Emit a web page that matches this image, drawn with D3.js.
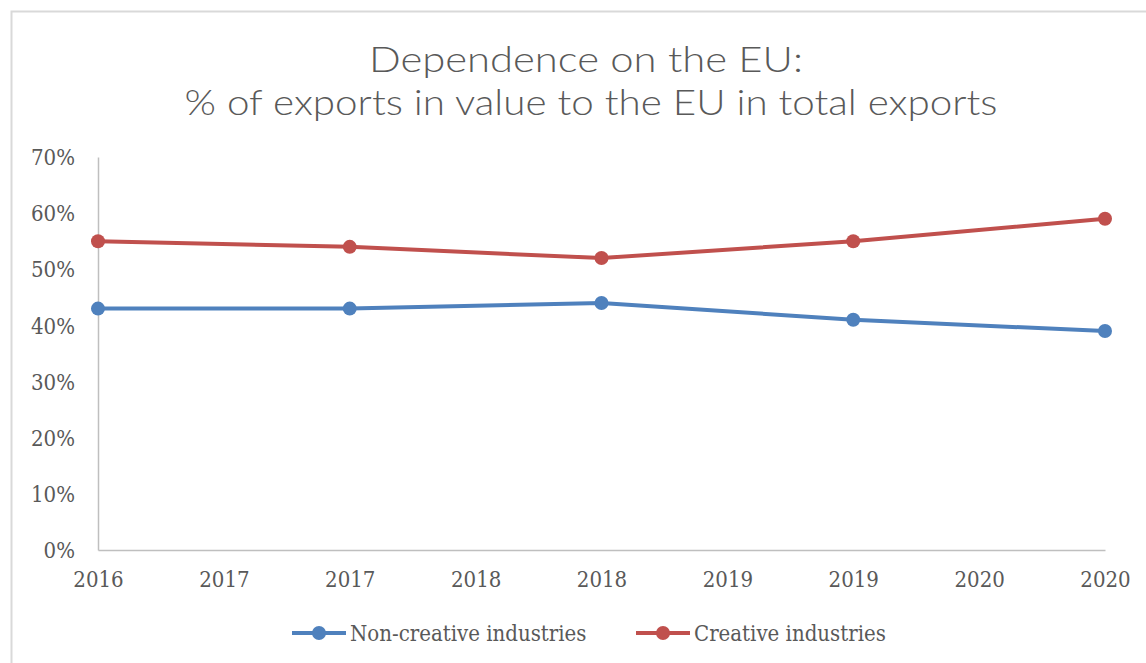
<!DOCTYPE html>
<html><head><meta charset="utf-8">
<script src="https://cdn.jsdelivr.net/npm/d3@7"></script>
<style>
body{margin:0;background:#fff;}
svg{display:block;}
</style></head>
<body>
<svg id="c" width="1146" height="663"></svg>
<script>
const years = [2016, 2017, 2018, 2019, 2020];
const tickLabels = ["2016","2017","2017","2018","2018","2019","2019","2020","2020"];
const nonCreative = [43, 43, 44, 41, 39];
const creative = [55, 54, 52, 55, 59];
const yTicks = [0,10,20,30,40,50,60,70];
const seriesNames = ["Non-creative industries","Creative industries"];
const colors = ["#4f81bd","#c0504d"];

const svg = d3.select("#c");
const plotL = 98, plotR = 1105, plotT = 157, plotB = 550;

// chart border
svg.append("path").attr("d","M11.5,663 V11.5 H1146").attr("fill","none").attr("stroke","#d9d9d9").attr("stroke-width",2);

const titleFont = "'Lato', 'Open Sans', sans-serif";
const tickFont = "'DejaVu Serif Condensed', 'DejaVu Serif', serif";

svg.append("text").attr("text-anchor","middle").attr("fill","#595959")
  .style("font-family",titleFont).style("font-weight","300").style("font-size","36px")
  .attr("x",586).attr("y",72).attr("textLength",434).attr("lengthAdjust","spacingAndGlyphs").text("Dependence on the EU:");
svg.append("text").attr("text-anchor","middle").attr("fill","#595959")
  .style("font-family",titleFont).style("font-weight","300").style("font-size","36px")
  .attr("x",591).attr("y",115).attr("textLength",813).attr("lengthAdjust","spacingAndGlyphs").text("% of exports in value to the EU in total exports");

const x = d3.scaleLinear().domain([0, tickLabels.length-1]).range([plotL, plotR]);
const xYear = d3.scaleLinear().domain([years[0], years[years.length-1]]).range([plotL, plotR]);
const y = d3.scaleLinear().domain([0,70]).range([plotB, plotT]);

// y axis
const yAxis = svg.append("g").attr("transform",`translate(${plotL},0)`)
  .call(d3.axisLeft(y).tickValues(yTicks).tickFormat(d=>d+"%").tickSize(0).tickPadding(23));
yAxis.select(".domain").attr("stroke","#bfbfbf").attr("stroke-width",1.5);
yAxis.selectAll("text").attr("fill","#595959").style("font-family",tickFont).style("font-size","22px").attr("dy","0.35em");

// x axis
const xAxis = svg.append("g").attr("transform",`translate(0,${plotB})`)
  .call(d3.axisBottom(x).tickValues(d3.range(tickLabels.length)).tickFormat(i=>tickLabels[i]).tickSize(0).tickPadding(21));
xAxis.select(".domain").attr("stroke","#bfbfbf").attr("stroke-width",1.5);
xAxis.selectAll("text").attr("fill","#595959").style("font-family",tickFont).style("font-size","22px");

const data = [nonCreative, creative];
const line = d3.line().x((d,i)=>xYear(years[i])).y(d=>y(d));
data.forEach((s,k)=>{
  svg.append("path").datum(s).attr("d",line).attr("fill","none").attr("stroke",colors[k]).attr("stroke-width",4).attr("stroke-linejoin","round");
  svg.selectAll(null).data(s).enter().append("circle")
    .attr("cx",(d,i)=>xYear(years[i])).attr("cy",d=>y(d)).attr("r",7).attr("fill",colors[k]);
});

// legend
const legX = [292, 636];
seriesNames.forEach((n,k)=>{
  const g = svg.append("g").attr("transform",`translate(${legX[k]},633)`);
  g.append("line").attr("x1",0).attr("x2",54).attr("stroke",colors[k]).attr("stroke-width",4);
  g.append("circle").attr("cx",27).attr("r",7).attr("fill",colors[k]);
  g.append("text").attr("x",58).attr("y",0).attr("dy","0.35em").attr("fill","#595959").style("font-family",tickFont).style("font-size","22px").text(n);
});
</script>
</body></html>
